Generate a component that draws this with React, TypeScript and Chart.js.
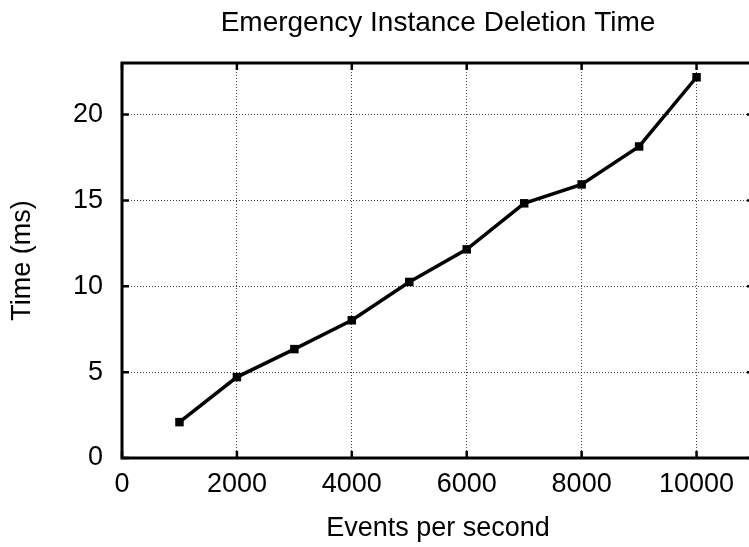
import React, { useEffect, useRef } from "react";
import { Chart, registerables } from "chart.js";

Chart.register(...registerables);

const chartTitle = "Emergency Instance Deletion Time";
const xAxisTitle = "Events per second";
const yAxisTitle = "Time (ms)";

const eventsPerSecond = [1000, 2000, 3000, 4000, 5000, 6000, 7000, 8000, 9000, 10000];
const deletionTimeMs = [2.09, 4.71, 6.34, 8.02, 10.25, 12.15, 14.83, 15.93, 18.14, 22.17];

const xTickValues = [0, 2000, 4000, 6000, 8000, 10000];
const yTickValues = [0, 5, 10, 15, 20];
const xMin = 0;
const xMax = 11000;
const yMin = 0;
const yMax = 23;

const FONT = "'Liberation Sans', Arial, Helvetica, sans-serif";

const framePlugin = {
  id: "gnuplotFrame",
  afterDraw(chart: any) {
    const { ctx, chartArea } = chart;
    const { left, top, right, bottom } = chartArea;
    const xs = chart.scales.x;
    const ys = chart.scales.y;
    ctx.save();
    ctx.strokeStyle = "#000";
    ctx.lineWidth = 3;
    ctx.setLineDash([]);
    ctx.strokeRect(left, top, right - left, bottom - top);
    ctx.lineWidth = 2.5;
    const len = 7;
    ctx.beginPath();
    for (const v of xTickValues) {
      const px = xs.getPixelForValue(v);
      ctx.moveTo(px, bottom);
      ctx.lineTo(px, bottom - len);
      ctx.moveTo(px, top);
      ctx.lineTo(px, top + len);
    }
    for (const v of yTickValues) {
      const py = ys.getPixelForValue(v);
      ctx.moveTo(left, py);
      ctx.lineTo(left + len, py);
      ctx.moveTo(right, py);
      ctx.lineTo(right - len, py);
    }
    ctx.stroke();
    ctx.restore();
  },
};

export default function App() {
  const canvasRef = useRef<HTMLCanvasElement | null>(null);

  useEffect(() => {
    if (!canvasRef.current) return;
    const points = eventsPerSecond.map((x, i) => ({ x, y: deletionTimeMs[i] }));
    const chart = new Chart(canvasRef.current, {
      type: "line",
      data: {
        datasets: [
          {
            data: points,
            borderColor: "#000",
            borderWidth: 3.5,
            pointStyle: "rect",
            pointRadius: 6,
            pointBackgroundColor: "#000",
            pointBorderColor: "#000",
            pointBorderWidth: 0,
            tension: 0,
            fill: false,
          },
        ],
      },
      options: {
        animation: false,
        responsive: false,
        devicePixelRatio: 1,
        layout: { padding: { top: 0, left: 0, right: 3, bottom: 0 } },
        plugins: {
          legend: { display: false },
          tooltip: { enabled: false },
          title: {
            display: true,
            fullSize: false,
            text: chartTitle,
            color: "#000",
            font: { family: FONT, size: 28, weight: "normal" },
            padding: { top: 6, bottom: 23.4 },
          },
        },
        scales: {
          x: {
            type: "linear",
            min: xMin,
            max: xMax,
            afterBuildTicks: (scale: any) => {
              scale.ticks = xTickValues.map((v) => ({ value: v }));
            },
            afterFit: (scale: any) => {
              scale.height = 89;
            },
            grid: { color: "rgba(0,0,0,0.75)", lineWidth: 1, drawTicks: false },
            border: { display: false, dash: [1, 2] },
            ticks: {
              color: "#000",
              font: { family: FONT, size: 27 },
              padding: 10,
              maxRotation: 0,
              autoSkip: false,
              callback: (v: any) => String(v),
            },
            title: {
              display: true,
              text: xAxisTitle,
              color: "#000",
              font: { family: FONT, size: 27 },
              padding: { top: 2, bottom: 2 },
            },
          },
          y: {
            type: "linear",
            min: yMin,
            max: yMax,
            afterBuildTicks: (scale: any) => {
              scale.ticks = yTickValues.map((v) => ({ value: v }));
            },
            afterFit: (scale: any) => {
              scale.width = 122;
            },
            grid: { color: "rgba(0,0,0,0.75)", lineWidth: 1, drawTicks: false },
            border: { display: false, dash: [1, 2] },
            ticks: {
              color: "#000",
              font: { family: FONT, size: 27 },
              padding: 19,
              autoSkip: false,
              callback: (v: any) => String(v),
            },
            title: {
              display: true,
              text: yAxisTitle,
              color: "#000",
              font: { family: FONT, size: 27 },
              padding: { top: 6, bottom: 6 },
            },
          },
        },
      },
      plugins: [framePlugin],
    } as any);
    return () => chart.destroy();
  }, []);

  return (
    <div
      style={{
        position: "fixed",
        left: 0,
        top: 0,
        width: 749,
        height: 547,
        overflow: "hidden",
        background: "#fff",
      }}
    >
      <canvas ref={canvasRef} width={760} height={547} style={{ display: "block" }} />
    </div>
  );
}
